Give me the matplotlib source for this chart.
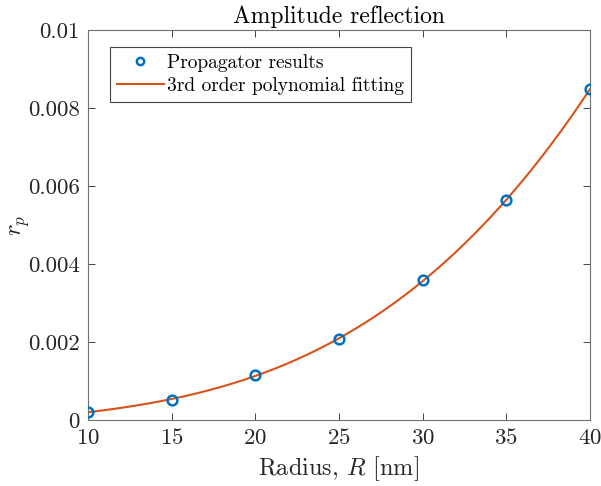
import numpy as np
import matplotlib
matplotlib.use('Agg')
import matplotlib.pyplot as plt
from matplotlib.ticker import FuncFormatter

plt.rcParams['font.family'] = 'serif'
plt.rcParams['font.serif'] = ['cmr10']
plt.rcParams['mathtext.fontset'] = 'cm'
plt.rcParams['axes.formatter.use_mathtext'] = True

# radius [nm] and reflection amplitude
radius = [10, 15, 20, 25, 30, 35, 40]
rp = [0.000205, 0.00052, 0.00115, 0.00208, 0.00358, 0.00563, 0.00849]

# 3rd order polynomial fit of the points
coef = np.polyfit(radius, rp, 3)
R_fit = np.linspace(10, 40, 300)
rp_fit = np.polyval(coef, R_fit)

blue = '#0072BD'
orange = '#D95319'
grey = '#262626'

fig = plt.figure(figsize=(6.01, 4.86), dpi=100)
ax = fig.add_axes([0.1464, 0.1358, 0.8353, 0.8025])

ax.plot(radius, rp, 'o', markersize=7, markerfacecolor='none', markeredgecolor=blue,
        markeredgewidth=1.8, label='Propagator results', zorder=3)
ax.plot(R_fit, rp_fit, '-', color=orange, linewidth=1.5, label='3rd order polynomial fitting')

ax.set_xlim(10, 40)
ax.set_ylim(0, 0.01)
ax.set_xticks([10, 15, 20, 25, 30, 35, 40])
ax.set_yticks([0, 0.002, 0.004, 0.006, 0.008, 0.01])
ax.yaxis.set_major_formatter(FuncFormatter(lambda v, p: f'{v:g}'))

ax.tick_params(direction='in', top=True, right=True, length=5, width=0.6,
               labelsize=16.5, colors=grey, pad=6)
for s in ax.spines.values():
    s.set_color('#707070')
    s.set_linewidth(0.8)

ax.set_xlabel(r'Radius, $R$ [nm]', fontsize=17.5, color=grey, labelpad=4)
ax.set_ylabel(r'$r_p$', fontsize=17.5, color=grey)
ax.yaxis.set_label_coords(-0.112, 0.5)
ax.set_title('Amplitude reflection', fontsize=17, color='black', pad=5)

leg = ax.legend(loc='upper left', bbox_to_anchor=(0.044, 0.956), fontsize=14,
                fancybox=False, framealpha=1, edgecolor='#444444', borderaxespad=0,
                handlelength=2.4, handletextpad=0.2, borderpad=0.35, labelspacing=0.25,
                markerscale=0.75)
leg.get_frame().set_linewidth(0.8)

fig.savefig('out.png', dpi=100)
